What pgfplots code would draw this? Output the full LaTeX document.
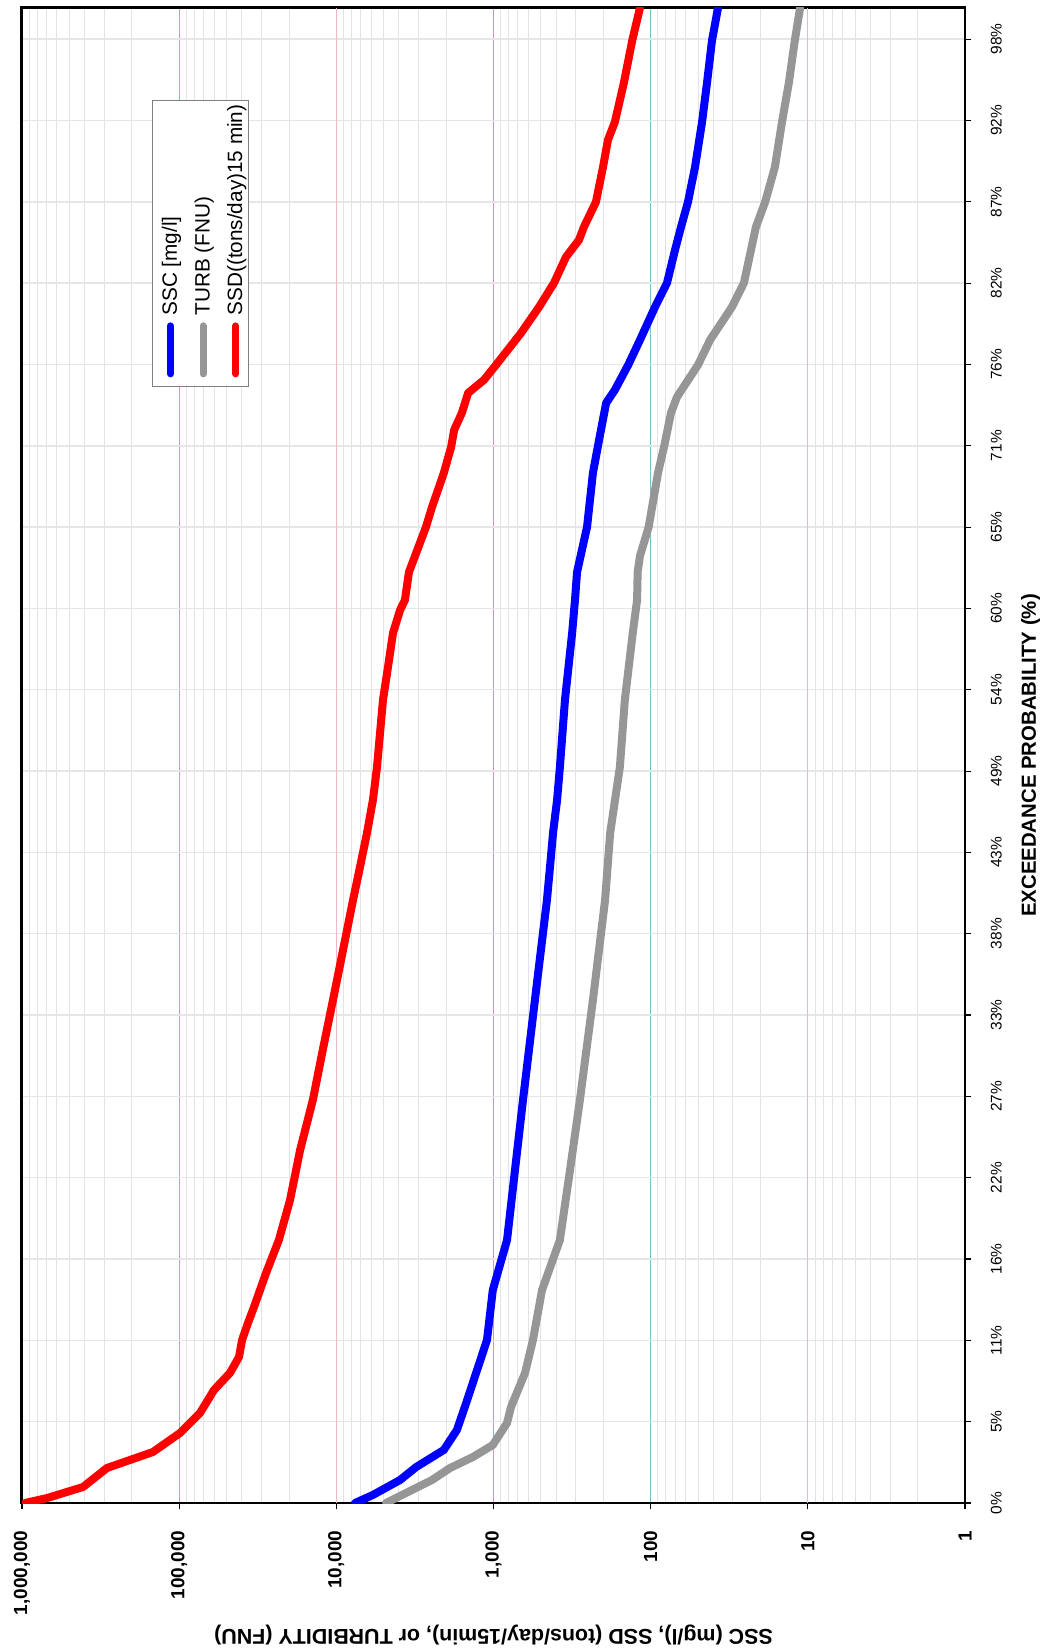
\documentclass[border=0pt]{standalone}
\usepackage{fontspec}
\setmainfont{Liberation Sans}
\usepackage{pgfplots}
\usepackage{pgfplotstable}
\pgfplotsset{compat=1.18}

\definecolor{sscblue}{RGB}{0,0,255}
\definecolor{turbgray}{RGB}{150,150,150}
\definecolor{ssdred}{RGB}{255,0,0}
\definecolor{gridteal}{RGB}{125,190,200}
\definecolor{gridpink}{RGB}{238,185,195}
\definecolor{gridminor}{RGB}{226,226,231}
\definecolor{gridh}{RGB}{230,230,230}

% v = value, p = exceedance probability (%)
\pgfplotstableread{
v p
7600 0
5850 0.54
3930 1.54
3110 2.40
2070 3.55
1710 4.88
1470 6.89
1290 8.70
1100 10.90
1010 14.25
820 17.59
730 22.27
649 26.96
545 33.65
457 40.33
437 42.54
418 44.82
394 47.02
378 49.23
351 53.71
316 58.19
303 60.40
294 62.27
254 65.28
233 68.90
213 71.10
192 73.58
169 74.45
139 76.12
117 77.79
93.8 80.00
78.7 81.61
70.0 83.81
64.1 85.35
57.9 87.02
52.2 89.36
47.1 92.37
43.8 95.00
40.7 97.83
37.3 100
}\ssc

\pgfplotstableread{
v p
4830 0
3300 0.87
2460 1.54
1890 2.34
1350 3.08
1010 3.88
820 5.35
774 6.42
630 8.70
561 10.90
491 14.25
378 17.59
326 22.27
282 26.96
233 33.65
195 40.33
181 44.82
157 49.23
146 53.71
130 58.19
122 60.40
121 62.27
117 63.34
103 65.28
89.8 68.90
82.2 70.64
74.3 72.91
68.0 73.98
50.0 76.12
41.9 77.79
30.4 80.00
25.5 81.61
23.0 83.81
21.4 85.35
18.7 87.02
16.2 89.36
14.6 92.37
13.2 95.00
12.1 97.83
11.2 100
}\turb

\pgfplotstableread{
v p
957000 0
693000 0.33
409000 1.07
288000 2.34
147000 3.41
98800 4.68
73700 6.02
60000 7.56
47500 8.70
41600 9.77
39800 10.90
36500 12.04
33400 13.11
28000 15.38
23200 17.59
19700 20.27
17000 23.61
14100 26.96
12200 30.30
10500 33.65
9060 36.99
7830 40.33
7070 42.54
6380 44.82
5850 47.02
5510 49.23
5270 51.51
5050 53.71
4690 55.92
4360 58.19
3930 59.73
3660 60.40
3450 62.27
2690 65.28
2460 66.62
2070 68.90
1860 70.64
1780 71.77
1590 72.91
1450 74.25
1150 75.12
964 76.12
668 78.26
513 80.00
412 81.61
346 83.34
286 84.48
266 85.35
223 87.02
201 89.36
187 91.17
169 92.37
148 95.00
131 97.83
117 100
}\ssd

\begin{document}
\begin{tikzpicture}
\begin{axis}[
    name=ax,
    scale only axis,
    width=188.6mm,
    height=299mm,
    xmode=log,
    x dir=reverse,
    xmin=1, xmax=1000000,
    ymin=0, ymax=100,
    xtick={1,10,100,1000,10000,100000,1000000},
    xticklabels={1,10,100,{1,000},{10,000},{100,000},{1,000,000}},
    extra x ticks={10,10000},
    extra x tick labels={},
    extra x tick style={grid=major, major x grid style={gridpink, line width=0.6pt}},
    ytick={0,5.44,10.88,16.32,21.76,27.2,32.64,38.08,43.52,48.96,54.4,59.84,65.28,70.72,76.16,81.6,87.04,92.48,97.92},
    yticklabels={0\%,5\%,11\%,16\%,22\%,27\%,33\%,38\%,43\%,49\%,54\%,60\%,65\%,71\%,76\%,82\%,87\%,92\%,98\%},
    xtick pos=bottom,
    ytick pos=right,
    yticklabel pos=right,
    tick align=outside,
    major tick length=1.3mm,
    minor tick length=0pt,
    tick style={black, line width=0.6pt},
    axis line style={line width=1.7pt},
    grid=both,
    major x grid style={gridteal, line width=0.6pt},
    minor x grid style={gridminor, line width=0.5pt},
    major y grid style={gridh, line width=0.9pt},
    xticklabel style={rotate=90, anchor=east, inner sep=0pt,
        font=\bfseries\fontsize{10.8}{13}\selectfont},
    xticklabel shift=4.2mm,
    yticklabel style={rotate=90, anchor=north, inner sep=0pt,
        font=\fontsize{8.8}{10}\selectfont},
    yticklabel shift=3.8mm,
    xlabel={SSC (mg/l), SSD (tons/day/15min), or TURBIDITY (FNU)},
    xlabel style={at={(axis description cs:0.5,-0.088)}, anchor=center, rotate=180,
        font=\bfseries\fontsize{12.2}{14}\selectfont},
    ylabel={EXCEEDANCE PROBABILITY (\%)},
    ylabel style={at={(axis description cs:1.0695,0.5)}, anchor=center,
        font=\bfseries\fontsize{11.6}{14}\selectfont},
    legend columns=3,
    legend cell align=left,
    legend style={at={(axis description cs:0.189,0.8425)}, anchor=center,
        draw=gray, line width=0.5pt, column sep=0.405mm,
        inner xsep=0mm, inner ysep=0.5mm,
        cells={anchor=west},
        nodes={rotate=90, anchor=west, inner sep=0.3mm,
            text height=0.75em, text depth=0.25em},
        font=\fontsize{11.8}{14}\selectfont},
    legend image code/.code={
        \draw[overlay, #1, line width=1.4mm, line cap=round] (2.825mm,-1.7mm) -- (2.825mm,-11.3mm);
        \path (0mm,-12.5mm);
    },
]
\addplot[sscblue, line width=1.6mm, line join=round, line cap=round] table[x=v, y=p] {\ssc};
\addlegendentry{SSC [mg/l]}
\addplot[turbgray, line width=1.6mm, line join=round, line cap=round] table[x=v, y=p] {\turb};
\addlegendentry{TURB (FNU)}
\addplot[ssdred, line width=1.6mm, line join=round, line cap=round] table[x=v, y=p] {\ssd};
\addlegendentry{SSD((tons/day)15 min)}
\end{axis}
\pgfresetboundingbox
\path[use as bounding box] ([xshift=-4.4mm,yshift=-29.4mm]ax.south west) rectangle ([xshift=15.8mm,yshift=1.6mm]ax.north east);
\end{tikzpicture}
\end{document}
